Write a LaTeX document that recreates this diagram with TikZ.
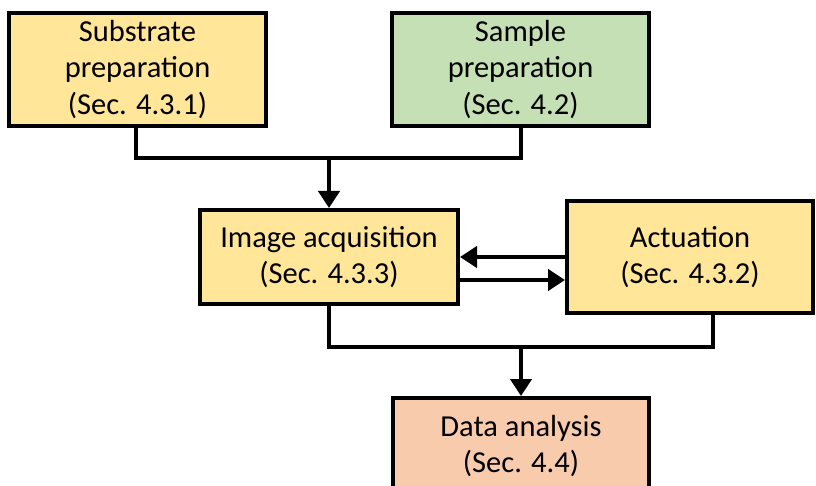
\documentclass[tikz,border=0pt]{standalone}
\usepackage{fontspec}
\setmainfont{Carlito}
\usetikzlibrary{arrows.meta}
\definecolor{boxyellow}{HTML}{FFE699}
\definecolor{boxgreen}{HTML}{C5E0B4}
\definecolor{boxpeach}{HTML}{F8CBAD}
\tikzset{
  stepbox/.style={draw=black, line width=4pt, align=center, inner sep=0pt,
    font=\fontsize{30.5}{36.5}\selectfont, text=black},
  conn/.style={line width=4pt},
  arr/.style={line width=4.5pt, -{Triangle[width=21pt,length=17pt]}},
}
\begin{document}
\begin{tikzpicture}[x=1pt,y=-1pt]
\useasboundingbox (0,0) rectangle (816,486);
\clip (0,0) rectangle (816,486);
\node[stepbox, fill=boxyellow, minimum width=257pt, minimum height=113pt] (sub) at (137.5,69.5) {Substrate\\preparation\\(Sec. 4.3.1)};
\node[stepbox, fill=boxgreen, minimum width=257pt, minimum height=113pt] (sam) at (520.5,69.5) {Sample\\preparation\\(Sec. 4.2)};
\node[stepbox, fill=boxyellow, minimum width=258pt, minimum height=94pt] (img) at (329,257) {Image acquisition\\(Sec. 4.3.3)};
\node[stepbox, fill=boxyellow, minimum width=246pt, minimum height=112pt] (act) at (690,257) {Actuation\\(Sec. 4.3.2)};
\node[stepbox, fill=boxpeach, minimum width=256pt, minimum height=96pt] (dat) at (521,446) {Data analysis\\(Sec. 4.4)};
\coordinate (j1) at (329,158);
\coordinate (j2) at (521,347);
\draw[conn, line join=miter] ([xshift=-1.5pt]sub.south) -- ([xshift=-1.5pt]sub.south |- j1) -- (sam.south |- j1) -- (sam.south);
\draw[arr] (j1) -- (img.north);
\draw[arr] (act.west) -- (img.east);
\draw[arr] ([yshift=-23pt]img.east) -- ([yshift=-23pt]img.east -| act.west);
\draw[conn, line join=miter] (img.south) -- (img.south |- j2) -- ([xshift=23pt]act.south |- j2) -- ([xshift=23pt]act.south);
\draw[arr] (j2) -- (dat.north);
\end{tikzpicture}
\end{document}
